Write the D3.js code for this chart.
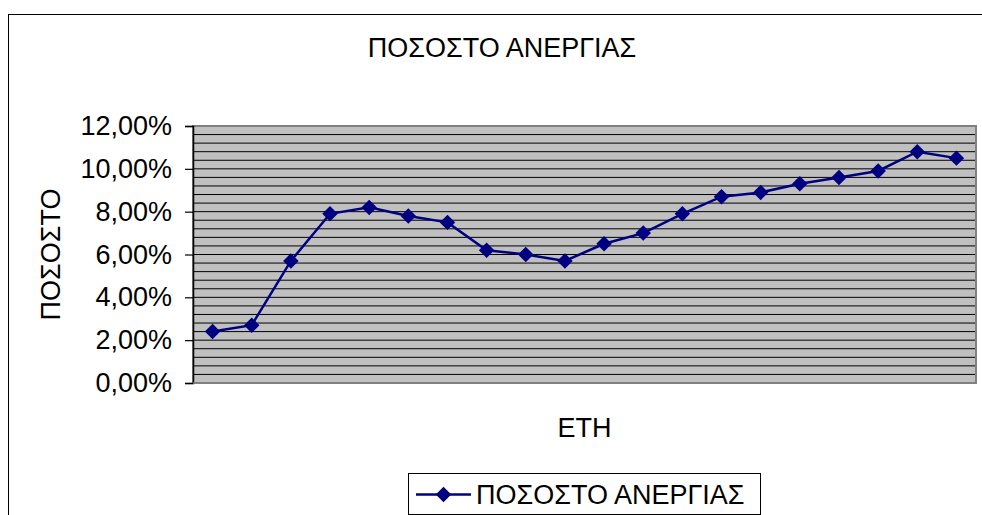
<!DOCTYPE html>
<html>
<head>
<meta charset="utf-8">
<script src="https://cdn.jsdelivr.net/npm/d3@7"></script>
<style>
  html, body { margin: 0; padding: 0; background: #fff; }
  svg { display: block; }
  text { font-family: "Liberation Sans", Arial, sans-serif; fill: #000; }
</style>
</head>
<body>
<svg id="chart" width="982" height="515"></svg>
<script>
const chartTitle = "ΠΟΣΟΣΤΟ ΑΝΕΡΓΙΑΣ";
const seriesName = "ΠΟΣΟΣΤΟ ΑΝΕΡΓΙΑΣ";
const xTitle = "ΕΤΗ";
const yTitle = "ΠΟΣΟΣΤΟ";
const categories = ["1","2","3","4","5","6","7","8","9","10","11","12","13","14","15","16","17","18","19","20"];
const values = [0.024, 0.027, 0.057, 0.079, 0.082, 0.078, 0.075, 0.062, 0.060, 0.057, 0.065, 0.070, 0.079, 0.087, 0.089, 0.093, 0.096, 0.099, 0.108, 0.105];
const yTicks = [0, 0.02, 0.04, 0.06, 0.08, 0.10, 0.12];
const minorStep = 0.004;

const svg = d3.select("#chart");
const plot = { left: 193, right: 976, top: 126, bottom: 383 };
const FS = 27;

// outer chart frame
svg.append("rect")
  .attr("x", 8.5).attr("y", 14.5)
  .attr("width", 1000).attr("height", 600)
  .attr("fill", "#fff").attr("stroke", "#000").attr("stroke-width", 1);

const x = d3.scalePoint().domain(categories).range([plot.left, plot.right]).padding(0.5);
const y = d3.scaleLinear().domain([0, 0.12]).range([plot.bottom, plot.top]);

// plot area
svg.append("rect")
  .attr("x", plot.left).attr("y", plot.top)
  .attr("width", plot.right - plot.left).attr("height", plot.bottom - plot.top)
  .attr("fill", "#c0c0c0");

// gridlines (minor, every 0.4%)
const gridVals = d3.range(1, Math.round(0.12 / minorStep)).map(i => i * minorStep);
svg.append("g").selectAll("line").data(gridVals).join("line")
  .attr("x1", plot.left).attr("x2", plot.right)
  .attr("y1", d => y(d)).attr("y2", d => y(d))
  .attr("stroke", "#000").attr("stroke-width", 1);

// plot border (gray)
svg.append("rect")
  .attr("x", plot.left).attr("y", plot.top)
  .attr("width", plot.right - plot.left).attr("height", plot.bottom - plot.top)
  .attr("fill", "none").attr("stroke", "#808080").attr("stroke-width", 2);

// y axis
const fmt = d => d3.format(".2f")(d * 100).replace(".", ",") + "%";
const yAxis = svg.append("g")
  .attr("transform", `translate(${plot.left},0)`)
  .call(d3.axisLeft(y).tickValues(yTicks).tickFormat(fmt).tickSize(8).tickPadding(13));
yAxis.select(".domain").attr("stroke", "#000").attr("stroke-width", 1.5);
yAxis.selectAll(".tick line").attr("stroke", "#000").attr("stroke-width", 1.2);
yAxis.selectAll(".tick text")
  .style("font-family", '"Liberation Sans", Arial, sans-serif')
  .style("font-size", FS + "px").attr("fill", "#000");

// x axis baseline
svg.append("line")
  .attr("x1", plot.left).attr("x2", plot.right)
  .attr("y1", plot.bottom).attr("y2", plot.bottom)
  .attr("stroke", "#808080").attr("stroke-width", 1.5);

// line series
const line = d3.line().x((d, i) => x(categories[i])).y(d => y(d));
svg.append("path").datum(values)
  .attr("d", line).attr("fill", "none")
  .attr("stroke", "#000080").attr("stroke-width", 2.5);

const diamond = d3.symbol().type(d3.symbolSquare).size(120);
svg.append("g").selectAll("path").data(values).join("path")
  .attr("d", diamond)
  .attr("transform", (d, i) => `translate(${x(categories[i])},${y(d)}) rotate(45)`)
  .attr("fill", "#000080");

// titles
svg.append("text").attr("x", 502).attr("y", 57)
  .attr("text-anchor", "middle").style("font-size", FS + "px").text(chartTitle);
svg.append("text").attr("x", (plot.left + plot.right) / 2).attr("y", 437)
  .attr("text-anchor", "middle").style("font-size", FS + "px").text(xTitle);
svg.append("text")
  .attr("transform", `translate(60,${(plot.top + plot.bottom) / 2}) rotate(-90)`)
  .attr("text-anchor", "middle").style("font-size", FS + "px").text(yTitle);

// legend
const lg = svg.append("g");
lg.append("rect").attr("x", 408.5).attr("y", 473.5).attr("width", 352).attr("height", 41)
  .attr("fill", "#fff").attr("stroke", "#000").attr("stroke-width", 1);
lg.append("line").attr("x1", 416).attr("x2", 471).attr("y1", 494.5).attr("y2", 494.5)
  .attr("stroke", "#000080").attr("stroke-width", 2.5);
lg.append("path").attr("d", diamond).attr("transform", "translate(443.5,494.5) rotate(45)")
  .attr("fill", "#000080");
lg.append("text").attr("x", 476).attr("y", 504).style("font-size", FS + "px").text(seriesName);
</script>
</body>
</html>
